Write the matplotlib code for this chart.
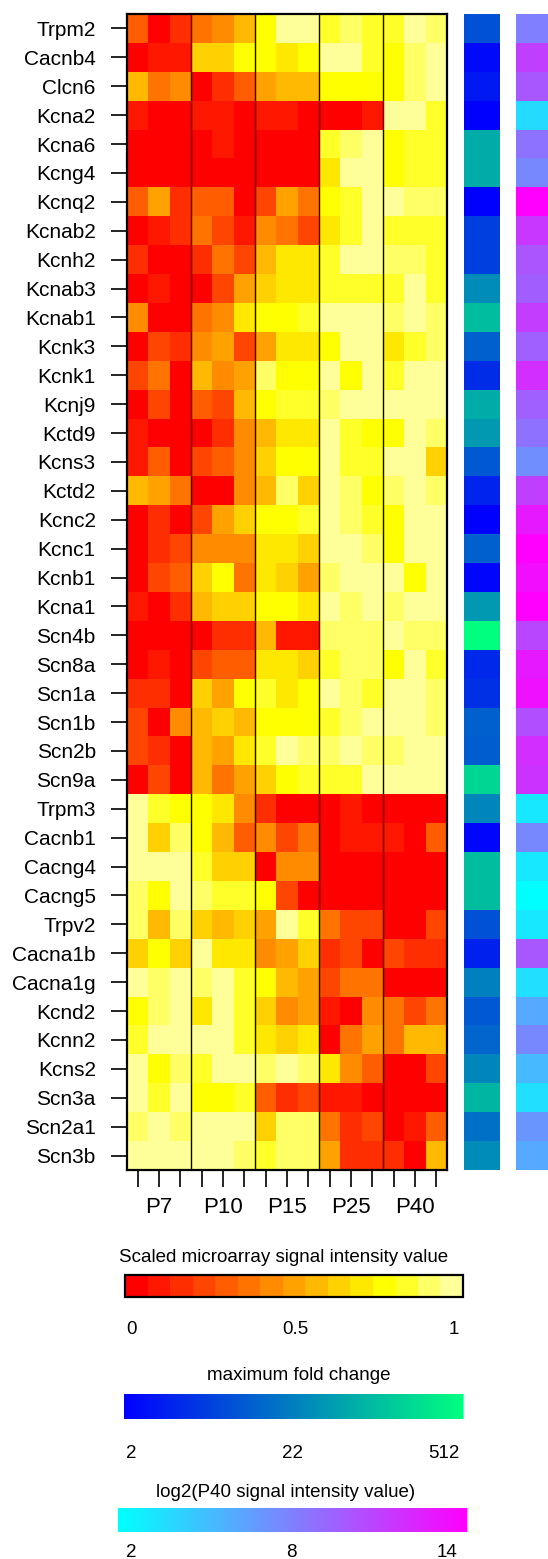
import numpy as np
import matplotlib
matplotlib.use("Agg")
import matplotlib.pyplot as plt
from matplotlib.colors import ListedColormap, BoundaryNorm, LinearSegmentedColormap, LogNorm, Normalize
from matplotlib.cm import ScalarMappable
from matplotlib.transforms import blended_transform_factory

plt.rcParams['font.family'] = ['Liberation Sans', 'DejaVu Sans']

genes = ["Trpm2", "Cacnb4", "Clcn6", "Kcna2", "Kcna6", "Kcng4", "Kcnq2", "Kcnab2",
         "Kcnh2", "Kcnab3", "Kcnab1", "Kcnk3", "Kcnk1", "Kcnj9", "Kctd9", "Kcns3",
         "Kctd2", "Kcnc2", "Kcnc1", "Kcnb1", "Kcna1", "Scn4b", "Scn8a", "Scn1a",
         "Scn1b", "Scn2b", "Scn9a", "Trpm3", "Cacnb1", "Cacng4", "Cacng5", "Trpv2",
         "Cacna1b", "Cacna1g", "Kcnd2", "Kcnn2", "Kcns2", "Scn3a", "Scn2a1", "Scn3b"]

stages = ["P7", "P10", "P15", "P25", "P40"]
replicates_per_stage = 3

# scaled microarray signal (rows = genes, columns = P7 x3, P10 x3, P15 x3, P25 x3, P40 x3)
scaled_signal = [
    [.30, .03, .17, .37, .43, .57, .77, .97, .97, .83, .90, .83, .83, .97, .90],
    [.03, .10, .10, .63, .63, .77, .77, .70, .77, .97, .97, .83, .77, .90, .97],
    [.57, .37, .43, .03, .17, .30, .50, .57, .57, .77, .77, .77, .77, .90, .97],
    [.10, .03, .03, .10, .10, .03, .10, .10, .03, .03, .03, .10, .97, .97, .83],
    [.03, .03, .03, .03, .10, .03, .03, .03, .03, .83, .90, .97, .77, .83, .83],
    [.03, .03, .03, .03, .03, .03, .03, .03, .03, .70, .97, .97, .77, .83, .83],
    [.30, .50, .17, .30, .30, .03, .23, .50, .37, .77, .83, .97, .97, .90, .90],
    [.03, .10, .17, .37, .23, .10, .43, .37, .23, .70, .83, .97, .83, .83, .83],
    [.17, .03, .03, .17, .37, .23, .57, .70, .70, .83, .97, .97, .90, .90, .83],
    [.03, .10, .03, .03, .23, .50, .63, .70, .70, .83, .83, .83, .83, .97, .83],
    [.43, .03, .03, .37, .43, .70, .77, .77, .83, .97, .97, .97, .90, .97, .90],
    [.03, .23, .17, .43, .50, .23, .50, .70, .70, .77, .97, .97, .70, .83, .90],
    [.23, .37, .03, .57, .43, .50, .90, .77, .77, .97, .77, .97, .83, .97, .97],
    [.03, .23, .03, .30, .23, .57, .77, .83, .83, .90, .97, .97, .97, .97, .97],
    [.10, .03, .03, .03, .17, .43, .57, .70, .70, .97, .83, .77, .77, .97, .90],
    [.10, .30, .03, .23, .30, .43, .63, .77, .77, .97, .83, .83, .97, .97, .63],
    [.57, .50, .37, .03, .03, .43, .57, .90, .63, .97, .90, .77, .90, .97, .90],
    [.03, .17, .03, .23, .50, .63, .77, .77, .83, .97, .90, .83, .77, .97, .97],
    [.03, .17, .23, .43, .43, .43, .70, .70, .63, .97, .97, .90, .77, .97, .97],
    [.03, .23, .30, .63, .77, .37, .70, .63, .50, .90, .97, .97, .97, .77, .97],
    [.10, .03, .17, .57, .63, .63, .77, .77, .70, .97, .90, .97, .90, .97, .97],
    [.03, .03, .03, .03, .17, .17, .57, .10, .10, .90, .90, .90, .97, .90, .90],
    [.03, .10, .03, .23, .30, .30, .70, .70, .63, .83, .90, .90, .77, .97, .83],
    [.17, .17, .03, .63, .50, .77, .83, .70, .77, .97, .90, .83, .97, .97, .90],
    [.23, .03, .43, .57, .63, .57, .77, .77, .77, .83, .90, .97, .97, .97, .90],
    [.23, .17, .03, .57, .50, .70, .83, .97, .90, .90, .97, .90, .90, .97, .97],
    [.03, .23, .03, .57, .37, .50, .63, .77, .83, .83, .83, .97, .97, .97, .97],
    [.97, .83, .77, .77, .70, .43, .17, .03, .03, .03, .10, .03, .03, .03, .03],
    [.97, .63, .90, .77, .57, .30, .43, .23, .37, .03, .10, .10, .10, .03, .30],
    [.97, .97, .97, .83, .63, .63, .03, .43, .43, .03, .03, .03, .03, .03, .03],
    [.90, .77, .97, .90, .83, .83, .77, .23, .03, .03, .03, .03, .03, .03, .03],
    [.90, .57, .90, .63, .57, .63, .50, .97, .83, .37, .23, .23, .03, .03, .23],
    [.63, .77, .63, .97, .70, .70, .43, .50, .63, .17, .23, .03, .23, .17, .17],
    [.97, .90, .97, .90, .97, .83, .77, .57, .50, .23, .37, .37, .03, .03, .03],
    [.77, .90, .97, .70, .97, .83, .63, .43, .50, .10, .03, .43, .37, .23, .37],
    [.83, .97, .97, .97, .97, .83, .70, .63, .70, .03, .37, .50, .37, .57, .57],
    [.97, .77, .90, .83, .97, .97, .90, .97, .90, .70, .43, .30, .03, .03, .23],
    [.97, .83, .97, .77, .77, .83, .30, .17, .23, .10, .10, .03, .03, .03, .03],
    [.90, .97, .90, .97, .97, .97, .63, .90, .90, .37, .17, .23, .03, .10, .30],
    [.97, .97, .97, .97, .97, .90, .83, .90, .90, .50, .17, .17, .17, .03, .57],
]

# maximum fold change per gene
max_fold_change = [12, 2.5, 3.5, 2, 84, 84, 2, 8, 8, 42,
                   120, 16, 5.3, 84, 56, 14, 4.3, 2, 16, 2.3,
                   56, 512, 4.9, 5.7, 16, 15, 208, 37, 2.3, 120,
                   120, 12, 4, 32, 14, 18, 37, 104, 23, 42]

# log2(P40 signal intensity value) per gene
log2_p40 = [8.0, 11.0, 9.9, 3.7, 8.6, 7.6, 14.0, 11.4, 10.0, 9.6,
            11.1, 9.5, 11.8, 9.5, 8.7, 7.3, 11.0, 12.8, 14.0, 13.3,
            14.0, 10.7, 12.8, 13.2, 10.3, 11.8, 11.6, 3.1, 7.6, 3.1,
            2.0, 3.1, 9.9, 3.5, 6.0, 7.6, 5.3, 3.5, 7.0, 6.0]

heat_colors = ['#FF0000', '#FF1700', '#FF2E00', '#FF4600', '#FF5D00', '#FF7400',
               '#FF8B00', '#FFA200', '#FFB900', '#FFD100', '#FFE800', '#FFFF00',
               '#FFFF2A', '#FFFF66', '#FFFF99']

W, H = 548, 1559
fig = plt.figure(figsize=(W / 100, H / 100), dpi=100)


def fx(px):
    return px / W


def fy(py):
    return 1 - py / H


data = np.array(scaled_signal)
nrow, ncol = data.shape
heat_cmap = ListedColormap(heat_colors)
heat_norm = BoundaryNorm(np.linspace(0, 1, len(heat_colors) + 1), heat_cmap.N)

top, bottom = 14, 1170
ax = fig.add_axes([fx(127), fy(bottom), fx(447) - fx(127), fy(top) - fy(bottom)])
ax.imshow(data, cmap=heat_cmap, norm=heat_norm, aspect='auto',
          interpolation='nearest', extent=(0, ncol, nrow, 0))
ax.set_xlim(0, ncol)
ax.set_ylim(nrow, 0)
ax.set_yticks(np.arange(nrow) + 0.5)
ax.set_yticklabels(genes)
ax.set_xticks(np.arange(ncol) + 0.5)
ax.set_xticklabels([])
ax.tick_params(axis='y', length=11.5, width=1.2, pad=11, labelsize=15)
ax.tick_params(axis='x', length=12, width=1.2)
for s in ax.spines.values():
    s.set_linewidth(1.6)
for g in range(1, len(stages)):
    ax.axvline(g * replicates_per_stage, color='black', lw=1.0)

trans = blended_transform_factory(ax.transData, fig.transFigure)
for g, st in enumerate(stages):
    ax.text(g * replicates_per_stage + replicates_per_stage / 2, fy(1213), st,
            transform=trans, ha='center', va='baseline', fontsize=16)

# side bars
fc_cmap = LinearSegmentedColormap.from_list('fc', ['#0000FF', '#00FF7F'])
fc_norm = LogNorm(2, 512)
ax1 = fig.add_axes([fx(464), fy(bottom), fx(500) - fx(464), fy(top) - fy(bottom)])
ax1.imshow(np.array(max_fold_change).reshape(-1, 1), cmap=fc_cmap, norm=fc_norm,
           aspect='auto', interpolation='nearest')
ax1.axis('off')

int_cmap = plt.get_cmap('cool')
int_norm = Normalize(2, 14)
ax2 = fig.add_axes([fx(516), fy(bottom), fx(548) - fx(516), fy(top) - fy(bottom)])
ax2.imshow(np.array(log2_p40).reshape(-1, 1), cmap=int_cmap, norm=int_norm,
           aspect='auto', interpolation='nearest')
ax2.axis('off')

tfs = 13.5


def clean_cbar(cb):
    cb.set_ticks([])
    cb.minorticks_off()
    cb.ax.tick_params(which='both', length=0, labelbottom=False)


# legend bar 1
fig.text(fx(284), fy(1262), "Scaled microarray signal intensity value",
         ha='center', va='baseline', fontsize=tfs)
cax1 = fig.add_axes([fx(125), fy(1297), fx(463) - fx(125), fy(1275) - fy(1297)])
cb1 = fig.colorbar(ScalarMappable(norm=heat_norm, cmap=heat_cmap), cax=cax1,
                   orientation='horizontal')
clean_cbar(cb1)
cb1.outline.set_linewidth(1.6)
for txt, x in [("0", 131.5), ("0.5", 295), ("1", 454)]:
    fig.text(fx(x), fy(1334), txt, ha='center', va='baseline', fontsize=tfs)

# legend bar 2
fig.text(fx(299), fy(1380), "maximum fold change", ha='center', va='baseline', fontsize=tfs)
cax2 = fig.add_axes([fx(124), fy(1419), fx(463) - fx(124), fy(1394) - fy(1419)])
cb2 = fig.colorbar(ScalarMappable(norm=fc_norm, cmap=fc_cmap), cax=cax2,
                   orientation='horizontal')
clean_cbar(cb2)
cb2.outline.set_visible(False)
for txt, x in [("2", 131.7), ("22", 292.7), ("512", 444)]:
    fig.text(fx(x), fy(1458), txt, ha='center', va='baseline', fontsize=tfs)

# legend bar 3
fig.text(fx(286), fy(1497), "log2(P40 signal intensity value)", ha='center',
         va='baseline', fontsize=tfs)
cax3 = fig.add_axes([fx(118), fy(1532), fx(467) - fx(118), fy(1508) - fy(1532)])
cb3 = fig.colorbar(ScalarMappable(norm=int_norm, cmap=int_cmap), cax=cax3,
                   orientation='horizontal')
clean_cbar(cb3)
cb3.outline.set_visible(False)
for txt, x in [("2", 131.7), ("8", 291.7), ("14", 446.7)]:
    fig.text(fx(x), fy(1557), txt, ha='center', va='baseline', fontsize=tfs)

fig.savefig("out.png", dpi=100)
